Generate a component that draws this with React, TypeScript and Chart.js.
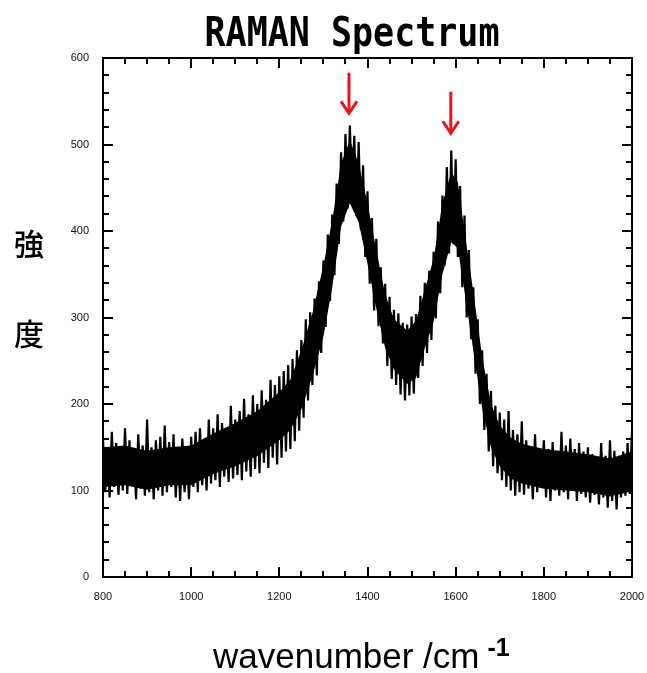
import { useEffect, useRef } from 'react';
import { Chart, registerables } from 'chart.js';

Chart.register(...registerables);

// ---- data ----
// raw noisy spectrum, one reading every 5 cm-1 from 800 cm-1
const WAVENUMBER_START = 800;
const WAVENUMBER_STEP = 5;
const intensity = [
  160, 98, 148, 92, 168, 104, 155, 95, 142, 100,
  172, 96, 158, 106, 146, 90, 165, 102, 152, 94,
  182, 98, 150, 90, 158, 100, 162, 94, 175, 98,
  156, 104, 165, 92, 150, 88, 160, 98, 148, 90,
  162,
  104, 168, 98, 172, 106, 160, 100, 182, 108, 172,
  112, 188, 104, 178, 116, 170, 110, 198, 114, 182,
  118, 192, 112, 206, 122, 188, 116, 210, 125, 200,
  120, 216, 132, 205, 126, 228, 138, 222, 130, 232,
  138, 238, 145, 245, 148, 252, 157, 262, 169, 274,
  184, 298, 204, 306, 222, 322, 233, 342, 259, 366,
  289, 396, 319, 419, 349, 455, 385, 491, 411, 512, 426, 522,
  439, 510, 417, 503, 401, 476, 370, 446, 339, 415,
  308, 391, 290, 358, 270, 339, 244, 324, 229, 309,
  222, 305, 211, 294, 204, 292, 210, 301,
  212, 304, 230, 325, 244, 340, 259, 354, 274, 376,
  299, 411, 328, 441, 360, 474, 374, 493, 385, 483,
  370, 452, 335, 418, 300, 378, 275, 335, 235, 298,
  200, 262, 170, 235, 145, 215, 128, 198, 120, 190,
  112, 182, 104, 192, 100, 170, 94, 165, 98, 180,
  95, 158, 102, 150, 90, 165, 98, 148, 104, 158,
  92, 148, 88, 156, 100, 145, 94, 168, 98, 152,
  90, 160, 102, 148, 88, 155, 96, 145, 92, 150,
  86, 142, 95, 138, 84, 155, 92, 140, 80, 158,
  88, 146, 78, 138, 92, 145, 94, 155, 96, 170,
];

// dense core of the noise band
const coreX = [800, 850, 900, 950, 1000, 1050, 1100, 1150, 1200, 1225, 1250, 1275, 1300, 1320, 1340, 1360, 1380, 1400, 1420, 1440, 1460, 1490, 1510, 1530, 1550, 1570, 1590, 1605, 1620, 1640, 1660, 1680, 1700, 1725, 1750, 1800, 1850, 1900, 1950, 2000];
const coreLow = [104, 106, 101, 106, 106, 119, 128, 140, 158, 170, 194, 232, 278, 335, 405, 432, 410, 362, 310, 265, 240, 223, 230, 265, 295, 350, 387, 380, 330, 262, 195, 150, 128, 114, 108, 102, 100, 98, 93, 99];
const coreHigh = [150, 152, 146, 150, 152, 166, 178, 192, 214, 228, 262, 305, 360, 412, 478, 505, 478, 432, 378, 327, 298, 285, 296, 332, 368, 432, 468, 456, 400, 330, 255, 200, 175, 161, 154, 148, 145, 142, 137, 145];

const X_MIN = 800;
const X_MAX = 2000;
const X_MAJOR = 200;
const X_MINOR = 50;
const Y_MIN = 0;
const Y_MAX = 600;
const Y_MAJOR = 100;
const Y_MINOR = 20;

// peak marker arrows (wavenumber, arrow top intensity, arrow tip intensity)
const arrowX = [1358, 1589];
const arrowTop = [583, 561];
const arrowTip = [536, 513];

const TITLE = 'RAMAN Spectrum';
const Y_LABEL_CHARS = ['強', '度'];
const X_LABEL = 'wavenumber /cm';
const X_LABEL_SUP = '-1';

const points = intensity.map((v, i) => ({ x: WAVENUMBER_START + i * WAVENUMBER_STEP, y: v }));
const lowPts = coreX.map((x, i) => ({ x, y: coreLow[i] }));
const highPts = coreX.map((x, i) => ({ x, y: coreHigh[i] }));

const decorPlugin = {
  id: 'decor',
  afterDraw(chart: any) {
    const ctx = chart.ctx as CanvasRenderingContext2D;
    const xs = chart.scales.x;
    const ys = chart.scales.y;
    const a = chart.chartArea;
    ctx.save();
    // frame
    ctx.strokeStyle = '#000';
    ctx.lineWidth = 2;
    ctx.strokeRect(a.left, a.top, a.right - a.left, a.bottom - a.top);
    // ticks (inward on all four sides)
    ctx.lineWidth = 2;
    ctx.beginPath();
    for (let v = X_MIN + X_MINOR; v < X_MAX; v += X_MINOR) {
      const px = Math.round(xs.getPixelForValue(v));
      const len = (v - X_MIN) % X_MAJOR === 0 ? 10 : 6;
      ctx.moveTo(px, a.bottom);
      ctx.lineTo(px, a.bottom - len);
      ctx.moveTo(px, a.top);
      ctx.lineTo(px, a.top + len);
    }
    for (let v = Y_MIN + Y_MINOR; v < Y_MAX; v += Y_MINOR) {
      const py = Math.round(ys.getPixelForValue(v));
      const len = (v - Y_MIN) % Y_MAJOR === 0 ? 10 : 6;
      ctx.moveTo(a.left, py);
      ctx.lineTo(a.left + len, py);
      ctx.moveTo(a.right, py);
      ctx.lineTo(a.right - len, py);
    }
    ctx.stroke();

    // arrows
    ctx.strokeStyle = '#e8141c';
    ctx.lineWidth = 3;
    ctx.lineCap = 'butt';
    for (let i = 0; i < arrowX.length; i++) {
      const px = xs.getPixelForValue(arrowX[i]);
      const top = ys.getPixelForValue(arrowTop[i]);
      const tip = ys.getPixelForValue(arrowTip[i]);
      ctx.beginPath();
      ctx.moveTo(px, top);
      ctx.lineTo(px, tip - 1);
      ctx.stroke();
      ctx.beginPath();
      ctx.moveTo(px - 8, tip - 12);
      ctx.lineTo(px, tip);
      ctx.lineTo(px + 8, tip - 12);
      ctx.stroke();
    }

    // title
    ctx.fillStyle = '#000';
    ctx.save();
    ctx.font = 'bold 40px "DejaVu Sans Mono"';
    ctx.textAlign = 'center';
    ctx.textBaseline = 'alphabetic';
    ctx.translate(352, 46);
    ctx.scale(0.875, 1);
    ctx.fillText(TITLE, 0, 0);
    ctx.restore();

    // y label
    ctx.font = '500 30px "Noto Sans CJK JP"';
    ctx.textAlign = 'center';
    ctx.textBaseline = 'middle';
    ctx.fillText(Y_LABEL_CHARS[0], 29, 244);
    ctx.fillText(Y_LABEL_CHARS[1], 29, 334);

    // x label
    ctx.font = '35px "Liberation Sans"';
    ctx.textAlign = 'left';
    ctx.textBaseline = 'alphabetic';
    const lx = 213;
    ctx.fillText(X_LABEL, lx, 668);
    const w = ctx.measureText(X_LABEL).width;
    ctx.font = 'bold 25px "Liberation Sans"';
    ctx.fillText(X_LABEL_SUP, lx + w + 8, 656);
    ctx.restore();
  },
};

export default function App() {
  const ref = useRef<HTMLCanvasElement | null>(null);
  useEffect(() => {
    document.body.style.margin = '0';
    const canvas = ref.current;
    if (!canvas) return;
    const chart = new Chart(canvas, {
      type: 'line',
      data: {
        datasets: [
          {
            data: lowPts,
            borderWidth: 0,
            borderColor: 'rgba(0,0,0,0)',
            pointRadius: 0,
            fill: false,
            order: 2,
          },
          {
            data: highPts,
            borderWidth: 0,
            borderColor: 'rgba(0,0,0,0)',
            backgroundColor: '#000',
            pointRadius: 0,
            fill: '-1',
            order: 2,
          },
          {
            data: points,
            borderColor: '#000',
            borderWidth: 2.2,
            borderJoinStyle: 'bevel',
            pointRadius: 0,
            tension: 0,
            fill: false,
            order: 1,
          },
        ],
      },
      options: {
        animation: false,
        responsive: false,
        events: [],
        layout: { padding: { top: 58, right: 15, left: 0, bottom: 0 } },
        plugins: {
          legend: { display: false },
          tooltip: { enabled: false },
          title: { display: false },
          filler: { propagate: false },
        },
        scales: {
          x: {
            type: 'linear',
            min: X_MIN,
            max: X_MAX,
            grid: { display: false, drawTicks: false },
            border: { display: false },
            afterFit: (s: any) => {
              s.height = 96;
              s.paddingLeft = 0;
              s.paddingRight = 0;
            },
            ticks: {
              stepSize: X_MAJOR,
              padding: 13,
              color: '#111',
              font: { family: '"Liberation Sans", Arial, sans-serif', size: 11 },
              maxRotation: 0,
              callback: (v: any) => String(v),
            },
          },
          y: {
            type: 'linear',
            min: Y_MIN,
            max: Y_MAX,
            grid: { display: false, drawTicks: false },
            border: { display: false },
            afterFit: (s: any) => {
              s.width = 103;
              s.paddingTop = 0;
              s.paddingBottom = 0;
            },
            ticks: {
              stepSize: Y_MAJOR,
              padding: 14,
              color: '#111',
              font: { family: '"Liberation Sans", Arial, sans-serif', size: 11 },
              callback: (v: any) => String(v),
            },
          },
        },
      },
      plugins: [decorPlugin],
    });
    return () => chart.destroy();
  }, []);
  return (
    <div style={{ width: 647, height: 673, background: '#fff' }}>
      <canvas ref={ref} width={647} height={673} style={{ display: 'block', width: 647, height: 673 }} />
    </div>
  );
}
